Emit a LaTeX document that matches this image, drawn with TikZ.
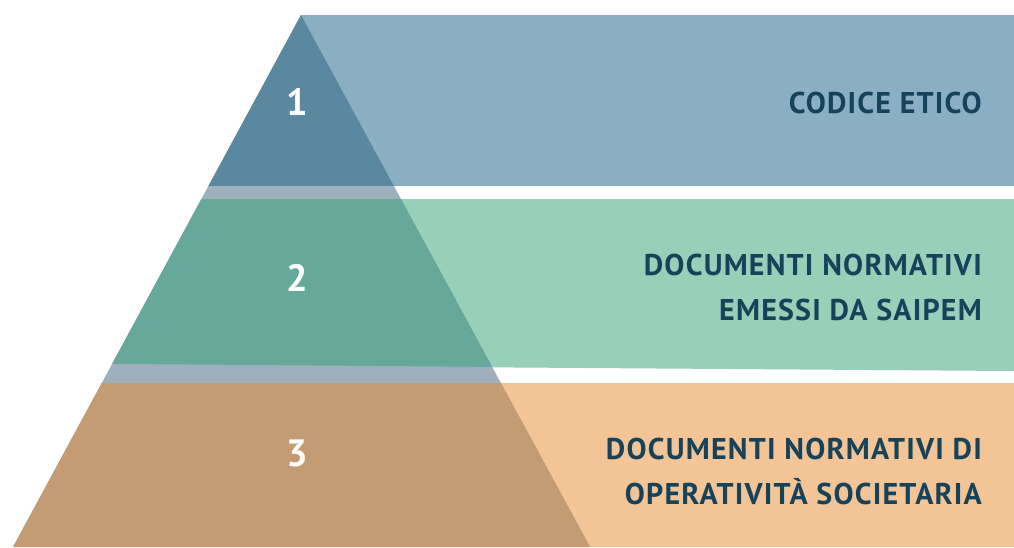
\documentclass[tikz,border=0pt]{standalone}
\usepackage{fontspec}
\setmainfont{PT Sans}
\usetikzlibrary{calc}
\definecolor{CodeBand}{RGB}{138,175,194}
\definecolor{CodeTip}{RGB}{90,136,160}
\definecolor{DocsBand}{RGB}{151,207,185}
\definecolor{DocsTip}{RGB}{102,168,154}
\definecolor{OpsBand}{RGB}{243,196,149}
\definecolor{OpsTip}{RGB}{196,156,115}
\definecolor{Gap}{RGB}{158,176,189}
\definecolor{Ink}{RGB}{23,67,90}
\begin{document}
\begin{tikzpicture}[x=1pt, y=-1pt]
			\tikzstyle{every node}=[inner sep=0pt, font=\fontsize{30}{45}\selectfont\bfseries\addfontfeatures{LetterSpace=4}, text=Ink, align=right, anchor=east];
			\tikzstyle{level}=[text=white, anchor=center, font=\fontsize{38}{38}\selectfont\bfseries];
			\useasboundingbox (0,0) rectangle (1014,547);
			% bands
			\fill [CodeBand] (301,15) rectangle (1014,186);
			\fill [DocsBand] (301,199) -- (1014,199) -- (1014,371) -- (301,366) -- cycle;
			\fill [OpsBand] (301,383) rectangle (1014,547);
			% pyramid
			\fill [Gap] (301,15) -- (590,547) -- (13,547) -- cycle;
			\begin{scope}
				\clip (301,15) -- (590,547) -- (13,547) -- cycle;
				\fill [CodeTip] (0,0) rectangle (1014,186);
				\fill [DocsTip] (0,199) -- (1014,199) -- (1014,371) -- (0,363) -- cycle;
				\fill [OpsTip] (0,383) rectangle (1014,547);
			\end{scope}
			\node [level] (one) at (297,102) {1};
			\node [level] (two) at (297,278) {2};
			\node [level] (three) at (297,453) {3};
			\node (code) at (982,103) {CODICE ETICO};
			\node (docs) at (982,287) {DOCUMENTI NORMATIVI\\EMESSI DA SAIPEM};
			\node (ops) at (982,471) {DOCUMENTI NORMATIVI DI\\OPERATIVITÀ SOCIETARIA};
\end{tikzpicture}
\end{document}
